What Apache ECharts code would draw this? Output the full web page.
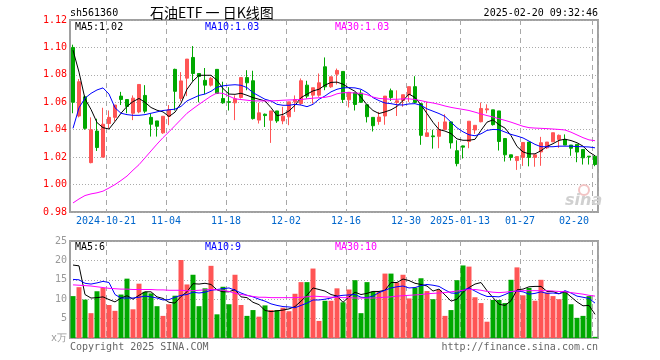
<!DOCTYPE html>
<html><head><meta charset="utf-8">
<script src="https://cdn.jsdelivr.net/npm/echarts@6/dist/echarts.min.js"></script>
<style>html,body{margin:0;padding:0;background:#fff}#c{width:660px;height:360px}</style>
</head><body><div id="c"></div>
<script>
const dates = [
'2024-10-11','2024-10-14','2024-10-15','2024-10-16','2024-10-17','2024-10-18',
'2024-10-21','2024-10-22','2024-10-23','2024-10-24','2024-10-25',
'2024-10-28','2024-10-29','2024-10-30','2024-10-31','2024-11-01',
'2024-11-04','2024-11-05','2024-11-06','2024-11-07','2024-11-08',
'2024-11-11','2024-11-12','2024-11-13','2024-11-14','2024-11-15',
'2024-11-18','2024-11-19','2024-11-20','2024-11-21','2024-11-22',
'2024-11-25','2024-11-26','2024-11-27','2024-11-28','2024-11-29',
'2024-12-02','2024-12-03','2024-12-04','2024-12-05','2024-12-06',
'2024-12-09','2024-12-10','2024-12-11','2024-12-12','2024-12-13',
'2024-12-16','2024-12-17','2024-12-18','2024-12-19','2024-12-20',
'2024-12-23','2024-12-24','2024-12-25','2024-12-26','2024-12-27',
'2024-12-30','2024-12-31','2025-01-02','2025-01-03',
'2025-01-06','2025-01-07','2025-01-08','2025-01-09','2025-01-10',
'2025-01-13','2025-01-14','2025-01-15','2025-01-16','2025-01-17',
'2025-01-20','2025-01-21','2025-01-22','2025-01-23','2025-01-24',
'2025-01-27','2025-02-05','2025-02-06','2025-02-07',
'2025-02-10','2025-02-11','2025-02-12','2025-02-13','2025-02-14',
'2025-02-17','2025-02-18','2025-02-19','2025-02-20'];

const tickDates = ['2024-10-21','2024-11-04','2024-11-18','2024-12-02','2024-12-16','2024-12-30','2025-01-13','2025-01-27','2025-02-20'];
const tickTexts = ['2024-10-21','11-04','11-18','12-02','12-16','12-30','2025-01-13','01-27','02-20'];

const opens = [1.100,1.050,1.064,1.016,1.039,1.020,1.0445,1.049,1.0645,1.062,
1.052,1.053,1.065,1.049,1.0464,1.0377,1.0498,1.084,1.0628,1.0776,
1.0927,1.081,1.076,1.0725,1.084,1.0628,1.0604,1.0596,1.0635,1.078,
1.0757,1.047,1.0513,1.0469,1.0537,1.0464,1.0494,1.0603,1.0591,1.0725,
1.0652,1.0652,1.0859,1.0713,1.0805,1.0825,1.0618,1.067,1.0667,1.0582,
1.049,1.046,1.050,1.0684,1.0599,1.0613,1.0655,1.0714,1.059,1.0351,
1.0355,1.0352,1.0401,1.0457,1.0247,1.0282,1.0314,1.0398,1.0458,1.0545,
1.0545,1.0537,1.0336,1.0217,1.0175,1.0198,1.031,1.0198,1.0238,1.0268,
1.0312,1.0329,1.0329,1.0288,1.0293,1.0256,1.0207,1.0207];

const closes = [1.060,1.075,1.041,1.040,1.027,1.044,1.049,1.058,1.062,1.057,
1.063,1.073,1.0535,1.044,1.0425,1.0498,1.0547,1.068,1.0756,1.0915,
1.081,1.0788,1.0725,1.0775,1.0664,1.0596,1.060,1.0625,1.078,1.0742,
1.0481,1.0523,1.0503,1.0537,1.0464,1.0499,1.0603,1.062,1.0757,1.0645,
1.0706,1.0742,1.0713,1.0786,1.0832,1.062,1.0673,1.0584,1.060,1.0495,
1.0429,1.0492,1.0645,1.0635,1.0611,1.0655,1.0714,1.0599,1.0359,1.0377,
1.0349,1.0401,1.0457,1.0304,1.0153,1.0273,1.0462,1.0432,1.0555,1.0552,
1.0437,1.0314,1.0217,1.0198,1.0204,1.0307,1.0198,1.0217,1.0305,1.031,
1.0378,1.0359,1.0288,1.0265,1.0237,1.0195,1.0202,1.0146];

const lows = [1.052,1.049,1.040,1.0155,1.0245,1.020,1.041,1.046,1.058,1.052,
1.047,1.052,1.052,1.035,1.035,1.037,1.0433,1.054,1.0607,1.0645,
1.0756,1.060,1.066,1.0715,1.066,1.0589,1.054,1.047,1.0627,1.0688,
1.0474,1.0445,1.042,1.0304,1.045,1.044,1.0433,1.053,1.058,1.0628,
1.059,1.064,1.0688,1.0705,1.073,1.0595,1.0562,1.054,1.0596,1.0453,
1.0387,1.0436,1.0436,1.061,1.050,1.0567,1.0603,1.0591,1.029,1.0351,
1.0262,1.0265,1.0401,1.0262,1.0133,1.019,1.0265,1.037,1.0454,1.052,
1.043,1.0248,1.0168,1.0175,1.0107,1.0136,1.0133,1.013,1.0137,1.026,
1.031,1.0268,1.0288,1.021,1.0163,1.0146,1.0146,1.0134];

const highs = [1.102,1.077,1.065,1.049,1.048,1.056,1.054,1.058,1.0676,1.062,
1.065,1.073,1.0725,1.0518,1.0464,1.050,1.058,1.0845,1.082,1.0915,
1.101,1.081,1.085,1.0785,1.084,1.075,1.071,1.065,1.078,1.0834,
1.083,1.0596,1.0518,1.0537,1.0537,1.0567,1.0603,1.065,1.0774,1.0757,
1.0706,1.081,1.0927,1.0786,1.0846,1.0825,1.0673,1.067,1.069,1.0582,
1.049,1.053,1.0645,1.070,1.0687,1.0655,1.0714,1.079,1.059,1.0603,
1.040,1.0457,1.0513,1.0457,1.0323,1.0285,1.0462,1.0432,1.0598,1.0585,
1.0545,1.0537,1.0336,1.0217,1.0204,1.0307,1.031,1.0217,1.0348,1.031,
1.0378,1.0365,1.0366,1.0288,1.0293,1.0256,1.0207,1.0207];

const ma5 = [1.098,1.082,1.0625,1.0548,1.0452,1.0415,1.0405,1.046,1.052,1.057,
1.0605,1.0628,1.060,1.0562,1.0542,1.053,1.0496,1.0528,1.0593,1.0695,
1.0755,1.0797,1.0797,1.0797,1.076,1.070,1.066,1.0658,1.0666,1.0651,
1.0634,1.0622,1.061,1.0561,1.0502,1.0512,1.0537,1.0578,1.0634,1.0659,
1.0683,1.0695,1.0725,1.0745,1.0747,1.0732,1.0704,1.068,1.0637,1.0582,
1.054,1.0518,1.053,1.0545,1.057,1.0612,1.066,1.0635,1.0582,1.0518,
1.0454,1.0401,1.039,1.0372,1.0333,1.0323,1.0323,1.033,1.0395,1.0455,
1.0472,1.0436,1.0412,1.0357,1.0278,1.0238,1.0224,1.0224,1.0247,1.0278,
1.0298,1.0322,1.0331,1.0321,1.0305,1.028,1.0238,1.021];

const ma10 = [1.041,1.056,1.063,1.0665,1.069,1.0705,1.066,1.056,1.052,1.051,
1.0505,1.0505,1.051,1.052,1.053,1.054,1.0545,1.055,1.057,1.061,
1.063,1.065,1.066,1.068,1.071,1.072,1.0725,1.0728,1.0724,1.0707,
1.067,1.0646,1.0622,1.061,1.0585,1.0578,1.0578,1.0585,1.058,1.0568,
1.0585,1.0622,1.0646,1.0676,1.0695,1.0705,1.0707,1.0705,1.0695,1.067,
1.0634,1.0612,1.0595,1.059,1.0582,1.058,1.0588,1.059,1.0578,1.0552,
1.0535,1.0518,1.0497,1.0455,1.0414,1.0385,1.0363,1.0356,1.037,1.0395,
1.0402,1.040,1.0383,1.0366,1.0354,1.034,1.0317,1.0293,1.0276,1.0276,
1.0276,1.028,1.028,1.028,1.0277,1.0276,1.0274,1.0268];

const ma30 = [0.9866,0.9895,0.992,0.9932,0.994,0.9952,0.9975,1.000,1.003,1.0062,
1.0105,1.0145,1.0195,1.0245,1.0295,1.0342,1.0385,1.043,1.0475,1.052,
1.0553,1.0585,1.0615,1.0645,1.0668,1.0665,1.0645,1.0625,1.062,1.0615,
1.061,1.061,1.061,1.061,1.0612,1.0615,1.0617,1.0618,1.062,1.0625,
1.063,1.0633,1.0636,1.0645,1.0662,1.067,1.067,1.0668,1.0665,1.0655,
1.0638,1.0628,1.0625,1.0622,1.0622,1.0625,1.0625,1.062,1.0612,1.0602,
1.0595,1.0585,1.0573,1.0563,1.0555,1.0548,1.054,1.0528,1.0515,1.0503,
1.0493,1.048,1.0468,1.0455,1.044,1.0425,1.0415,1.0412,1.041,1.0408,
1.0405,1.0402,1.0398,1.0382,1.0362,1.0342,1.0326,1.032];

const volumes = [10.8,13.1,9.9,6.4,12.05,12.9,8.5,7.0,11.2,15.3,
7.4,14.0,11.9,11.5,8.2,5.7,8.7,10.9,20.1,13.8,
16.3,8.2,12.8,18.6,6.1,13.2,8.7,16.3,8.5,5.7,
7.2,5.5,8.4,7.2,7.2,7.8,6.9,11.4,14.4,14.4,
17.9,4.4,9.6,9.6,12.8,9.2,12.5,14.9,6.4,14.4,
12.0,12.1,16.6,16.6,14.3,16.3,10.2,13.0,15.4,12.1,
10.0,12.4,5.7,7.2,14.9,18.7,18.4,10.5,9.0,4.2,
9.8,9.8,9.0,15.0,18.2,11.0,12.9,9.6,15.0,11.7,
10.8,10.0,11.9,8.7,5.2,5.7,10.8,0.3];

const volMa5 = [18.8,18.6,11.2,10.3,10.4,10.6,9.9,9.3,10.3,10.9,
10.0,11.0,11.9,11.9,10.6,10.2,9.2,9.0,10.7,11.9,
14.0,13.9,14.1,13.8,12.4,11.9,11.9,12.5,10.6,10.4,
9.2,8.6,7.1,6.8,7.0,7.2,7.5,8.1,9.5,11.0,
12.9,12.5,12.1,11.2,10.8,9.2,10.6,11.8,11.2,11.5,
12.0,12.0,12.3,14.3,14.3,15.2,14.8,14.1,13.8,13.4,
12.1,12.6,11.1,9.5,10.0,11.8,13.0,13.9,14.3,12.2,
10.4,8.7,8.4,9.6,12.4,12.6,13.2,13.3,13.3,12.0,
12.0,11.4,11.9,10.6,9.3,8.3,8.4,6.1];

const volMa10 = [15.1,15.0,14.1,13.9,14.2,14.6,14.3,11.2,10.3,10.3,
10.3,10.5,10.8,10.6,10.3,9.8,9.9,10.5,11.0,11.2,
11.8,11.6,11.8,12.3,12.5,12.7,12.9,12.3,11.6,11.0,
10.6,10.0,9.5,8.8,8.4,8.1,8.0,7.8,8.4,9.0,
9.8,9.8,10.0,10.3,10.8,11.0,11.1,11.2,10.5,10.4,
10.8,11.7,12.3,12.9,13.2,13.4,12.9,13.0,13.5,13.8,
13.6,13.3,12.4,11.6,11.5,12.3,12.9,12.1,11.3,10.7,
10.7,10.6,11.2,11.9,12.1,11.9,11.3,11.5,11.9,11.5,
11.6,11.4,12.2,11.6,10.8,10.5,10.2,9.0];

const volMa30 = [13.7,13.6,13.5,13.4,13.2,13.0,12.8,12.7,12.6,12.6,
12.5,12.5,12.5,12.5,12.4,12.4,12.3,12.3,12.3,12.2,
12.2,12.3,12.4,12.5,12.4,12.3,12.0,11.5,11.2,11.0,
10.7,10.5,10.5,10.4,10.4,10.4,10.4,10.4,10.5,10.6,
10.8,10.7,10.6,10.5,10.5,10.4,10.4,10.3,10.3,10.3,
10.3,10.4,10.5,10.6,10.8,10.9,11.0,11.1,11.2,11.4,
11.5,11.6,11.7,11.9,12.1,12.3,12.5,12.5,12.3,12.0,
11.8,11.7,11.8,12.0,12.1,12.2,12.2,12.2,12.2,12.2,
12.1,12.0,11.9,11.7,11.5,11.3,11.0,10.8];

const UP = '#ff5555', DOWN = '#00a800';
const MONO = '"DejaVu Sans Mono", monospace';
const candleData = opens.map((o, i) => [o, closes[i], lows[i], highs[i]]);
const volData = volumes.map((v, i) => ({ value: v, itemStyle: { color: closes[i] >= opens[i] ? UP : DOWN } }));
const isTick = (i) => tickDates.indexOf(dates[i]) >= 0;

function xAxis(gridIndex, withLabels) {
  return {
    type: 'category', gridIndex: gridIndex, data: dates, boundaryGap: true,
    axisLine: { show: false }, axisTick: { show: false },
    axisLabel: withLabels ? {
      show: true, interval: (i) => isTick(i), color: '#0066cc', fontFamily: MONO, fontSize: 10,
      margin: 4, padding: [0, 6, 0, 0], alignMaxLabel: 'right',
      formatter: (v) => tickTexts[tickDates.indexOf(v)]
    } : { show: false },
    splitLine: { show: true, interval: (i) => isTick(i), lineStyle: { color: '#a8a8a8', type: [5, 4], width: 1 } }
  };
}

const chart = echarts.init(document.getElementById('c'), null, { width: 660, height: 360 });
chart.setOption({
  animation: false,
  backgroundColor: '#fff',
  grid: [
    { left: 70, top: 20, width: 528, height: 192, show: true, borderColor: '#a0a0a0', borderWidth: 2 },
    { left: 70, top: 241, width: 528, height: 97, show: true, borderColor: '#a0a0a0', borderWidth: 2 }
  ],
  xAxis: [xAxis(0, true), xAxis(1, false)],
  yAxis: [
    { type: 'value', gridIndex: 0, min: 0.98, max: 1.12, interval: 0.02,
      axisLine: { show: false }, axisTick: { show: false },
      axisLabel: { color: '#ff0000', fontFamily: MONO, fontSize: 10, margin: 3, formatter: (v) => v.toFixed(2) },
      splitLine: { lineStyle: { color: '#aaaaaa', type: [1, 2], width: 1 } } },
    { type: 'value', gridIndex: 1, min: 0, max: 25, interval: 5,
      axisLine: { show: false }, axisTick: { show: false },
      axisLabel: { color: '#999999', fontFamily: MONO, fontSize: 10, margin: 3, formatter: (v) => v === 0 ? 'x万' : String(v) },
      splitLine: { lineStyle: { color: '#aaaaaa', type: [1, 2], width: 1 } } }
  ],
  series: [
    { type: 'candlestick', xAxisIndex: 0, yAxisIndex: 0, data: candleData, barWidth: 4,
      itemStyle: { color: UP, color0: DOWN, borderColor: UP, borderColor0: DOWN, borderWidth: 1 } },
    { type: 'line', xAxisIndex: 0, yAxisIndex: 0, data: ma5, showSymbol: false, symbol: 'none', lineStyle: { color: '#000', width: 1 }, z: 5 },
    { type: 'line', xAxisIndex: 0, yAxisIndex: 0, data: ma10, showSymbol: false, symbol: 'none', lineStyle: { color: '#0000ff', width: 1 }, z: 5 },
    { type: 'line', xAxisIndex: 0, yAxisIndex: 0, data: ma30, showSymbol: false, symbol: 'none', lineStyle: { color: '#ff00ff', width: 1 }, z: 5 },
    { type: 'bar', xAxisIndex: 1, yAxisIndex: 1, data: volData, barWidth: 5 },
    { type: 'line', xAxisIndex: 1, yAxisIndex: 1, data: volMa5, showSymbol: false, symbol: 'none', lineStyle: { color: '#000', width: 1 }, z: 5 },
    { type: 'line', xAxisIndex: 1, yAxisIndex: 1, data: volMa10, showSymbol: false, symbol: 'none', lineStyle: { color: '#0000ff', width: 1 }, z: 5 },
    { type: 'line', xAxisIndex: 1, yAxisIndex: 1, data: volMa30, showSymbol: false, symbol: 'none', lineStyle: { color: '#ff00ff', width: 1 }, z: 5 }
  ],
  graphic: [
    { type: 'text', x: 70, y: 13, style: { text: 'sh561360', fill: '#000', font: '10px ' + MONO, verticalAlign: 'middle' } },
    { type: 'text', x: 150, y: 13, style: { text: '石油ETF 一 日K线图', fill: '#000', font: '14px "Noto Sans CJK SC", sans-serif', verticalAlign: 'middle' } },
    { type: 'text', x: 598, y: 13, style: { text: '2025-02-20 09:32:46', fill: '#000', font: '10px ' + MONO, align: 'right', verticalAlign: 'middle' } },
    { type: 'text', x: 75, y: 27, z: 10, style: { text: 'MA5:1.02', fill: '#000', font: '10px ' + MONO, verticalAlign: 'middle' } },
    { type: 'text', x: 205, y: 27, z: 10, style: { text: 'MA10:1.03', fill: '#0000ff', font: '10px ' + MONO, verticalAlign: 'middle' } },
    { type: 'text', x: 335, y: 27, z: 10, style: { text: 'MA30:1.03', fill: '#ff00ff', font: '10px ' + MONO, verticalAlign: 'middle' } },
    { type: 'text', x: 75, y: 247, z: 10, style: { text: 'MA5:6', fill: '#000', font: '10px ' + MONO, verticalAlign: 'middle' } },
    { type: 'text', x: 205, y: 247, z: 10, style: { text: 'MA10:9', fill: '#0000ff', font: '10px ' + MONO, verticalAlign: 'middle' } },
    { type: 'text', x: 335, y: 247, z: 10, style: { text: 'MA30:10', fill: '#ff00ff', font: '10px ' + MONO, verticalAlign: 'middle' } },
    { type: 'text', x: 70, y: 347, style: { text: 'Copyright 2025 SINA.COM', fill: '#666', font: '10px ' + MONO, verticalAlign: 'middle' } },
    { type: 'text', x: 598, y: 347, style: { text: 'http://finance.sina.com.cn', fill: '#666', font: '10px ' + MONO, align: 'right', verticalAlign: 'middle' } },
    { type: 'circle', shape: { cx: 584, cy: 190, r: 5 }, style: { fill: 'none', stroke: '#f2c4c4', lineWidth: 2 }, z: 1 },
    { type: 'text', x: 565, y: 201, z: 1, style: { text: 'sina', fill: '#d0d0d0', font: 'italic bold 16px "DejaVu Sans", sans-serif', verticalAlign: 'middle' } }
  ]
});
</script>
</body></html>
